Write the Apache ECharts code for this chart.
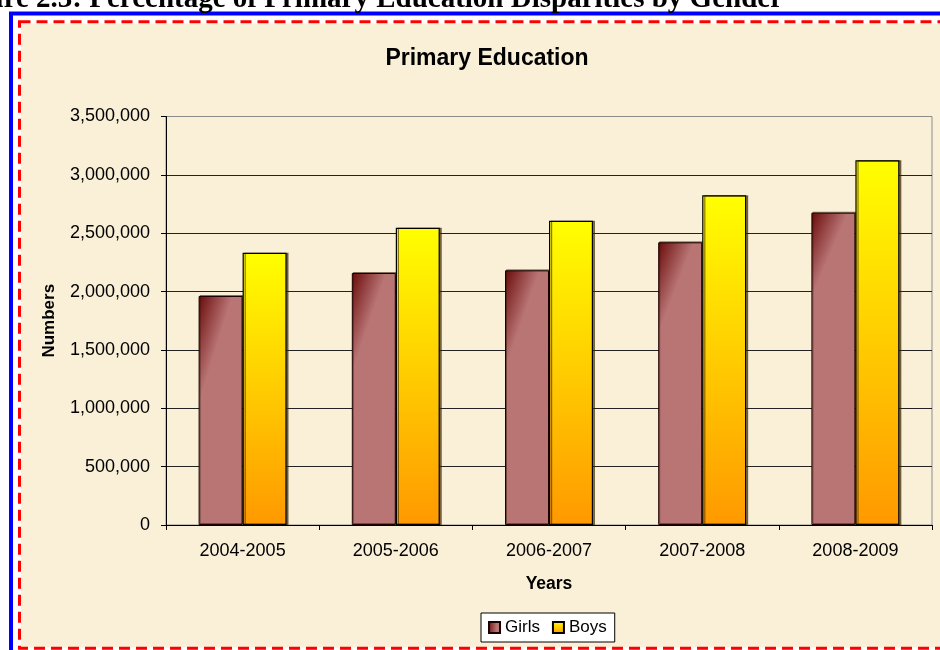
<!DOCTYPE html>
<html>
<head>
<meta charset="utf-8">
<script src="https://cdn.jsdelivr.net/npm/echarts@6/dist/echarts.min.js"></script>
<style>
  html, body { margin: 0; padding: 0; background: #fff; }
  #chart { width: 940px; height: 650px; }
</style>
</head>
<body>
<div id="chart"></div>
<script>
// chart data
var years = ['2004-2005', '2005-2006', '2006-2007', '2007-2008', '2008-2009'];
var seriesNames = ['Girls', 'Boys'];
var girls = [1962000, 2159000, 2182000, 2422000, 2676000];
var boys = [2333000, 2547000, 2607000, 2825000, 3125000];
var yMin = 0;
var yMax = 3500000;
var yStep = 500000;

var chart = echarts.init(document.getElementById('chart'));

function withCommas(v) {
  return String(v).replace(/\B(?=(\d{3})+(?!\d))/g, ',');
}

var girlsFill = new echarts.graphic.LinearGradient(0, 0, 1, 0.06, [
  { offset: 0, color: '#6A0A0A' },
  { offset: 0.7, color: '#B97474' },
  { offset: 1, color: '#B97474' }
]);
var boysFill = new echarts.graphic.LinearGradient(0, 0, 0, 1, [
  { offset: 0, color: '#FFFF00' },
  { offset: 1, color: '#FF9900' }
]);

chart.setOption({
  backgroundColor: '#ffffff',
  animation: false,
  graphic: [
    // outer blue frame
    { type: 'rect', z: -10, silent: true,
      shape: { x: 11, y: 13.5, width: 1000, height: 1000 },
      style: { fill: '#ffffff', stroke: '#0000FF', lineWidth: 4 } },
    // parchment panel
    { type: 'rect', z: -9, silent: true,
      shape: { x: 21, y: 23.5, width: 1000, height: 624 },
      style: { fill: '#FAF0D8' } },
    // red dashed frame
    { type: 'rect', z: -8, silent: true,
      shape: { x: 19.5, y: 21.8, width: 1000, height: 626.5 },
      style: { fill: null, stroke: '#FF0000', lineWidth: 3, lineDash: [11, 6] } },
    // document caption, cut off at the top of the page
    { type: 'text', z: -7, silent: true,
      style: {
        text: 'Figure 2.3: Percentage of Primary Education Disparities by Gender',
        x: 783, y: 14,
        align: 'right', verticalAlign: 'bottom',
        font: 'bold 29px "Liberation Serif"',
        fill: '#000'
      } }
  ],
  title: {
    text: 'Primary Education',
    left: 482,
    textAlign: 'center',
    top: 42,
    textStyle: { fontFamily: 'Liberation Sans', fontWeight: 'bold', fontSize: 23, color: '#000' }
  },
  legend: {
    data: seriesNames,
    left: 481,
    top: 613,
    padding: [6, 8, 6, 7],
    itemGap: 12,
    itemWidth: 11,
    itemHeight: 11,
    icon: 'rect',
    backgroundColor: '#ffffff',
    borderColor: '#000',
    borderWidth: 1,
    borderRadius: 0,
    textStyle: { fontFamily: 'Liberation Sans', fontSize: 17, color: '#000' }
  },
  grid: {
    left: 166, right: 8, top: 116.5, bottom: 125,
    show: true,
    borderColor: '#8C8C8C',
    borderWidth: 1,
    backgroundColor: 'transparent'
  },
  xAxis: {
    type: 'category',
    data: years,
    name: 'Years',
    nameLocation: 'middle',
    nameGap: 50,
    nameTextStyle: { fontFamily: 'Liberation Sans', fontWeight: 'bold', fontSize: 17.5, color: '#000' },
    axisLine: { lineStyle: { color: '#000', width: 1 } },
    axisTick: { show: true, length: 5, lineStyle: { color: '#000' } },
    axisLabel: { margin: 17, fontFamily: 'Liberation Sans', fontSize: 18, color: '#000' }
  },
  yAxis: {
    type: 'value',
    min: yMin,
    max: yMax,
    interval: yStep,
    name: 'Numbers',
    nameLocation: 'middle',
    nameGap: 108,
    nameTextStyle: { fontFamily: 'Liberation Sans', fontWeight: 'bold', fontSize: 17, color: '#000' },
    axisLine: { show: true, lineStyle: { color: '#000', width: 1 } },
    axisTick: { show: true, length: 5, lineStyle: { color: '#000' } },
    axisLabel: {
      margin: 16, fontFamily: 'Liberation Sans', fontSize: 18, color: '#000',
      formatter: function (v) { return withCommas(v); }
    },
    splitLine: { show: true, showMaxLine: false, lineStyle: { color: '#222', width: 1 } }
  },
  series: [
    {
      name: seriesNames[0],
      type: 'bar',
      data: girls,
      barWidth: 44,
      barGap: '0%',
      itemStyle: {
        color: girlsFill,
        borderColor: '#1a0000',
        borderWidth: 1,
        shadowColor: 'rgba(40,20,0,0.45)',
        shadowOffsetX: 1,
        shadowOffsetY: -1
      }
    },
    {
      name: seriesNames[1],
      type: 'bar',
      data: boys,
      barWidth: 44,
      barGap: '0%',
      itemStyle: {
        color: boysFill,
        borderColor: '#000',
        borderWidth: 1.2,
        shadowColor: 'rgba(60,40,0,0.6)',
        shadowOffsetX: 2,
        shadowOffsetY: 0
      }
    }
  ]
});
</script>
</body>
</html>
